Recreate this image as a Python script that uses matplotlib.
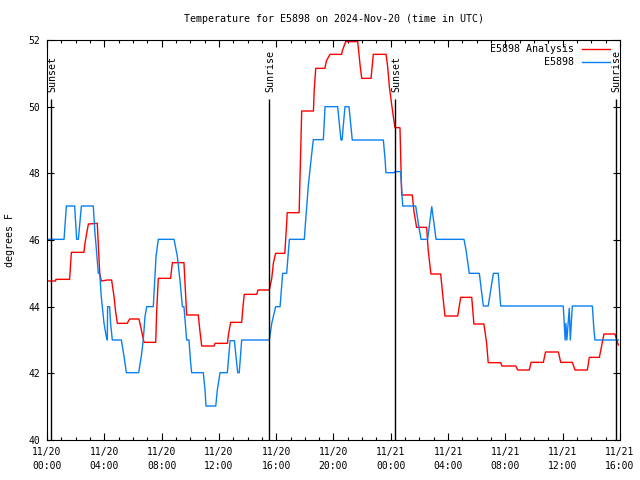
import numpy as np
import matplotlib
matplotlib.use("Agg")
import matplotlib.pyplot as plt
import matplotlib.dates as mdates
from matplotlib.ticker import MultipleLocator

plt.rcParams['font.family'] = ['DejaVu Sans Mono']

start = np.datetime64("2024-11-20T00:00")

# hours after 11/20 00:00 UTC, degrees F
analysis_hours = [0.0, 0.6, 0.62, 1.58, 1.7, 2.58, 2.65, 2.77, 2.89, 3.51, 3.68, 3.79,
                  4.21, 4.51, 4.68, 4.79, 4.91, 5.6, 5.77, 6.42, 6.54, 6.77, 7.59, 7.66,
                  7.77, 8.63, 8.75, 9.56, 9.75, 10.56, 10.68, 10.8, 11.66, 11.73, 12.6,
                  12.66, 12.82, 13.59, 13.68, 13.77, 14.64, 14.73, 15.52, 15.69, 15.8,
                  15.96, 16.6, 16.73, 16.77, 17.6, 17.78, 18.6, 18.65, 18.76, 19.4, 19.5,
                  19.76, 20.57, 20.61, 20.85, 21.69, 21.85, 21.97, 22.62, 22.78, 23.67,
                  23.78, 23.9, 24.05, 24.17, 24.29, 24.64, 24.76, 25.5, 25.62, 25.8, 26.5,
                  26.61, 26.8, 27.48, 27.64, 27.78, 28.67, 28.88, 29.65, 29.8, 30.5,
                  30.69, 30.8, 31.67, 31.76, 32.72, 32.86, 33.67, 33.79, 34.65, 34.8,
                  35.7, 35.86, 36.67, 36.86, 37.72, 37.86, 38.56, 38.88, 39.65, 39.81,
                  39.88]
analysis_temps = [44.77, 44.77, 44.82, 44.82, 45.63, 45.63, 45.9, 46.2, 46.48, 46.5, 45.0,
                  44.77, 44.8, 44.8, 44.3, 43.85, 43.5, 43.5, 43.63, 43.63, 43.4, 42.93,
                  42.93, 43.9, 44.85, 44.85, 45.32, 45.32, 43.75, 43.75, 43.25, 42.82,
                  42.82, 42.9, 42.9, 43.15, 43.53, 43.53, 44.0, 44.37, 44.37, 44.5, 44.5,
                  44.85, 45.3, 45.6, 45.6, 46.5, 46.82, 46.82, 49.87, 49.87, 50.48, 51.15,
                  51.15, 51.37, 51.57, 51.57, 51.67, 51.95, 51.95, 51.27, 50.85, 50.85,
                  51.57, 51.57, 51.2, 50.6, 50.1, 49.72, 49.37, 49.37, 47.35, 47.35,
                  46.85, 46.38, 46.38, 45.7, 44.98, 44.98, 44.3, 43.72, 43.72, 44.28,
                  44.28, 43.48, 43.48, 42.9, 42.32, 42.32, 42.22, 42.22, 42.1, 42.1,
                  42.33, 42.33, 42.64, 42.64, 42.33, 42.33, 42.1, 42.1, 42.48, 42.48,
                  43.18, 43.18, 42.95, 42.85]

obs_hours = [0.0, 1.19, 1.35, 1.93, 2.07, 2.19, 2.4, 3.23, 3.35, 3.47, 3.58, 3.68, 3.79,
             3.98, 4.14, 4.21, 4.23, 4.37, 4.44, 4.56, 5.19, 5.38, 5.54, 6.4, 6.58, 6.72,
             6.84, 6.96, 7.42, 7.52, 7.61, 7.77, 8.87, 9.1, 9.28, 9.45, 9.56, 9.75, 9.91,
             10.03, 10.1, 10.91, 11.03, 11.1, 11.78, 11.89, 12.08, 12.59, 12.78, 13.08,
             13.31, 13.42, 13.59, 15.52, 15.69, 15.96, 16.27, 16.45, 16.73, 16.92, 17.96,
             18.08, 18.24, 18.41, 18.59, 19.29, 19.41, 20.29, 20.52, 20.6, 20.8, 21.08,
             21.31, 23.48, 23.6, 23.66, 24.24, 24.29, 24.69, 24.83, 25.74, 25.92, 26.11,
             26.57, 26.86, 27.16, 29.11, 29.25, 29.48, 30.18, 30.35, 30.46, 30.8, 31.16,
             31.5, 31.67, 36.04, 36.17, 36.22, 36.29, 36.46, 36.53, 36.67, 38.07, 38.19,
             38.25, 39.88]
obs_temps = [46.02, 46.02, 47.02, 47.02, 46.02, 46.02, 47.02, 47.02, 46.2, 45.6, 45.0, 45.0,
             44.3, 43.5, 43.1, 43.0, 44.0, 44.0, 43.5, 43.0, 43.0, 42.5, 42.02, 42.02, 42.5,
             43.0, 43.7, 44.0, 44.0, 44.8, 45.5, 46.02, 46.02, 45.5, 44.8, 44.0, 44.0, 43.0,
             43.0, 42.3, 42.02, 42.02, 41.5, 41.02, 41.02, 41.5, 42.02, 42.02, 42.98, 42.98,
             42.02, 42.02, 43.0, 43.0, 43.5, 44.0, 44.0, 45.0, 45.0, 46.02, 46.02, 46.72,
             47.62, 48.32, 49.01, 49.01, 50.0, 50.0, 49.0, 49.0, 50.0, 50.0, 49.0, 49.0,
             48.42, 48.02, 48.02, 48.05, 48.05, 47.02, 47.02, 46.5, 46.02, 46.02, 47.0,
             46.02, 46.02, 45.7, 45.0, 45.0, 44.4, 44.02, 44.02, 45.0, 45.0, 44.02, 44.02,
             43.0, 43.5, 43.0, 43.95, 43.0, 44.02, 44.02, 43.25, 43.0, 43.0]

sun_hours = [0.30, 15.52, 24.31, 39.70]
sun_labels = ["Sunset", "Sunrise", "Sunset", "Sunrise"]


def to_time(hours):
    secs = np.round(np.array(hours) * 3600).astype("int64")
    return start + secs.astype("timedelta64[s]")


fig = plt.figure(figsize=(6.4, 4.8), dpi=100)
ax = fig.add_axes([47 / 640, 40 / 480, 573 / 640, 400 / 480])

ax.plot(to_time(analysis_hours), analysis_temps, color="#ff0000", lw=1.0)
ax.plot(to_time(obs_hours), obs_temps, color="#0a80f0", lw=1.0)

sun_times = to_time(sun_hours)
ax.vlines(sun_times, 40, 50.23, color="black", lw=1.0)
for t, lab in zip(sun_times, sun_labels):
    ax.text(t + np.timedelta64(4, "m"), 50.44, lab, rotation=90, ha="center",
            va="bottom", fontsize=7.2)

ax.set_xlim(start, start + np.timedelta64(40, "h"))
ax.set_ylim(40, 52)
ax.xaxis.set_major_locator(mdates.HourLocator(byhour=range(0, 24, 4)))
ax.xaxis.set_minor_locator(mdates.HourLocator())
ax.xaxis.set_major_formatter(mdates.DateFormatter("%m/%d\n%H:%M"))
ax.yaxis.set_major_locator(MultipleLocator(2))

ax.tick_params(which="both", direction="in", top=True, right=True, width=0.8,
               labelsize=7.0)
ax.tick_params(which="major", length=5)
ax.tick_params(which="minor", length=2.5)
ax.tick_params(axis="x", pad=5)
ax.tick_params(axis="y", pad=5)
for sp in ax.spines.values():
    sp.set_linewidth(0.8)

ax.set_ylabel("degrees F", fontsize=7.2)
ax.yaxis.set_label_coords((15 - 47) / 573, 0.5)

fig.text(333.5 / 640, 1 - 19 / 480, "Temperature for E5898 on 2024-Nov-20 (time in UTC)",
         ha="center", va="center", fontsize=7.2)

# legend, gnuplot style (text right aligned, sample on the right)
leg_items = [("E5898 Analysis", "#ff0000"), ("E5898", "#0a80f0")]
for i, (name, col) in enumerate(leg_items):
    yy = (440 - (49.5 + 13 * i)) / 400
    ax.text(0.9197, yy, name, transform=ax.transAxes, ha="right", va="center",
            fontsize=7.2)
    ax.plot([0.9337, 0.9825], [yy, yy], transform=ax.transAxes, color=col, lw=1.0,
            clip_on=False)

fig.canvas.draw()
for lbl in ax.get_xticklabels():
    lbl.set_linespacing(1.45)

fig.savefig("out.png", dpi=100)
